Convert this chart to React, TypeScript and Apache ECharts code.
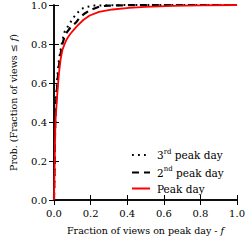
import React, { useEffect, useRef } from "react";
import * as echarts from "echarts";

const xTicks = [0, 0.2, 0.4, 0.6, 0.8, 1.0];

const peakF = [0, 0.002, 0.004, 0.006, 0.008, 0.011, 0.014, 0.02, 0.027, 0.036, 0.046, 0.058, 0.067, 0.08, 0.092, 0.11, 0.127, 0.16, 0.195, 0.246, 0.32, 0.41, 0.5, 0.65, 0.8, 1.0];
const peakP = [0, 0.1, 0.2, 0.32, 0.4, 0.45, 0.49, 0.57, 0.65, 0.72, 0.77, 0.8, 0.82, 0.84, 0.855, 0.875, 0.893, 0.923, 0.946, 0.965, 0.977, 0.985, 0.99, 0.995, 0.998, 1.0];

const secondF = [0, 0.002, 0.004, 0.007, 0.01, 0.014, 0.02, 0.027, 0.036, 0.046, 0.055, 0.07, 0.09, 0.12, 0.14, 0.17, 0.2, 0.25, 0.3, 0.4, 0.6, 1.0];
const secondP = [0, 0.12, 0.25, 0.43, 0.48, 0.54, 0.62, 0.69, 0.75, 0.8, 0.83, 0.86, 0.885, 0.91, 0.935, 0.958, 0.975, 0.993, 0.997, 0.999, 1.0, 1.0];

const thirdF = [0, 0.002, 0.004, 0.007, 0.01, 0.014, 0.02, 0.027, 0.036, 0.046, 0.058, 0.072, 0.089, 0.106, 0.13, 0.16, 0.178, 0.22, 0.3, 0.5, 1.0];
const thirdP = [0, 0.12, 0.25, 0.44, 0.5, 0.57, 0.65, 0.72, 0.77, 0.82, 0.863, 0.884, 0.91, 0.935, 0.962, 0.985, 0.99, 0.997, 0.999, 1.0, 1.0];

const seriesNames = ["3rd peak day", "2nd peak day", "Peak day"];

const zip = (a: number[], b: number[]) => a.map((v, i) => [v, b[i]]);

const SERIF = "DejaVu Serif";

export default function App() {
  const ref = useRef<HTMLDivElement>(null);
  useEffect(() => {
    if (!ref.current) return;
    const chart = echarts.init(ref.current, undefined, { renderer: "svg" });
    const axisCommon = {
      type: "value" as const,
      min: 0,
      max: 1,
      interval: 0.2,
      splitLine: { show: false },
      axisLine: { show: true, lineStyle: { color: "#000", width: 1.5 } },
      axisTick: { show: true, inside: true, length: 5, lineStyle: { color: "#000", width: 1 } },
    };
    chart.setOption({
      animation: false,
      backgroundColor: "#fff",
      grid: { left: 44, right: 9, top: 4, bottom: 37, containLabel: false },
      legend: {
        orient: "vertical",
        left: 126,
        top: 143,
        itemWidth: 18,
        itemHeight: 12,
        itemGap: 5,
        itemStyle: { opacity: 0, borderWidth: 0 },
        data: seriesNames,
        formatter: (name: string) => {
          if (name === "3rd peak day") return "3{s|rd} peak day";
          if (name === "2nd peak day") return "2{s|nd} peak day";
          return name;
        },
        textStyle: {
          fontFamily: SERIF,
          fontSize: 10.5,
          color: "#000",
          padding: [0, 0, 0, 2],
          rich: {
            s: { fontFamily: SERIF, fontSize: 7, color: "#000", padding: [0, 0, 7, 0] },
          },
        },
      },
      xAxis: [
        {
          ...axisCommon,
          position: "bottom",
          name: "Fraction of views on peak day - {i|f}",
          nameLocation: "middle",
          nameGap: 25,
          nameTextStyle: {
            fontFamily: SERIF,
            fontSize: 9.5,
            color: "#000",
            rich: { i: { fontFamily: SERIF, fontStyle: "italic", fontSize: 9.5, color: "#000" } },
          },
          axisLabel: {
            fontFamily: SERIF,
            fontSize: 10,
            color: "#000",
            margin: 8,
            formatter: (v: number) => (xTicks.includes(Math.round(v * 10) / 10) ? v.toFixed(1) : ""),
          },
        },
        {
          ...axisCommon,
          position: "top",
          axisLabel: { show: false },
        },
      ],
      yAxis: [
        {
          ...axisCommon,
          position: "left",
          name: "Prob. (Fraction of views \u2264 {i|f})",
          nameLocation: "middle",
          nameGap: 36,
          nameTextStyle: {
            fontFamily: SERIF,
            fontSize: 9.5,
            color: "#000",
            rich: { i: { fontFamily: SERIF, fontStyle: "italic", fontSize: 9.5, color: "#000" } },
          },
          axisLabel: {
            fontFamily: SERIF,
            fontSize: 10,
            color: "#000",
            margin: 7,
            formatter: (v: number) => v.toFixed(1),
          },
        },
        {
          ...axisCommon,
          position: "right",
          axisLabel: { show: false },
        },
      ],
      series: [
        {
          name: seriesNames[0],
          type: "line",
          data: zip(thirdF, thirdP),
          showSymbol: false,
          symbol: "none",
          z: 2,
          lineStyle: { color: "#000", width: 2, type: [1.8, 4.2], cap: "butt" },
          itemStyle: { color: "#000" },
        },
        {
          name: seriesNames[1],
          type: "line",
          data: zip(secondF, secondP),
          showSymbol: false,
          symbol: "none",
          z: 3,
          lineStyle: { color: "#000", width: 2.2, type: [7, 5] },
          itemStyle: { color: "#000" },
        },
        {
          name: seriesNames[2],
          type: "line",
          data: zip(peakF, peakP),
          showSymbol: false,
          symbol: "none",
          z: 4,
          lineStyle: { color: "#ff0000", width: 1.8 },
          itemStyle: { color: "#ff0000" },
        },
      ],
    });
    return () => chart.dispose();
  }, []);
  return (
    <div
      ref={ref}
      style={{ position: "fixed", left: 0, top: 0, width: 248, height: 240 }}
    />
  );
}
